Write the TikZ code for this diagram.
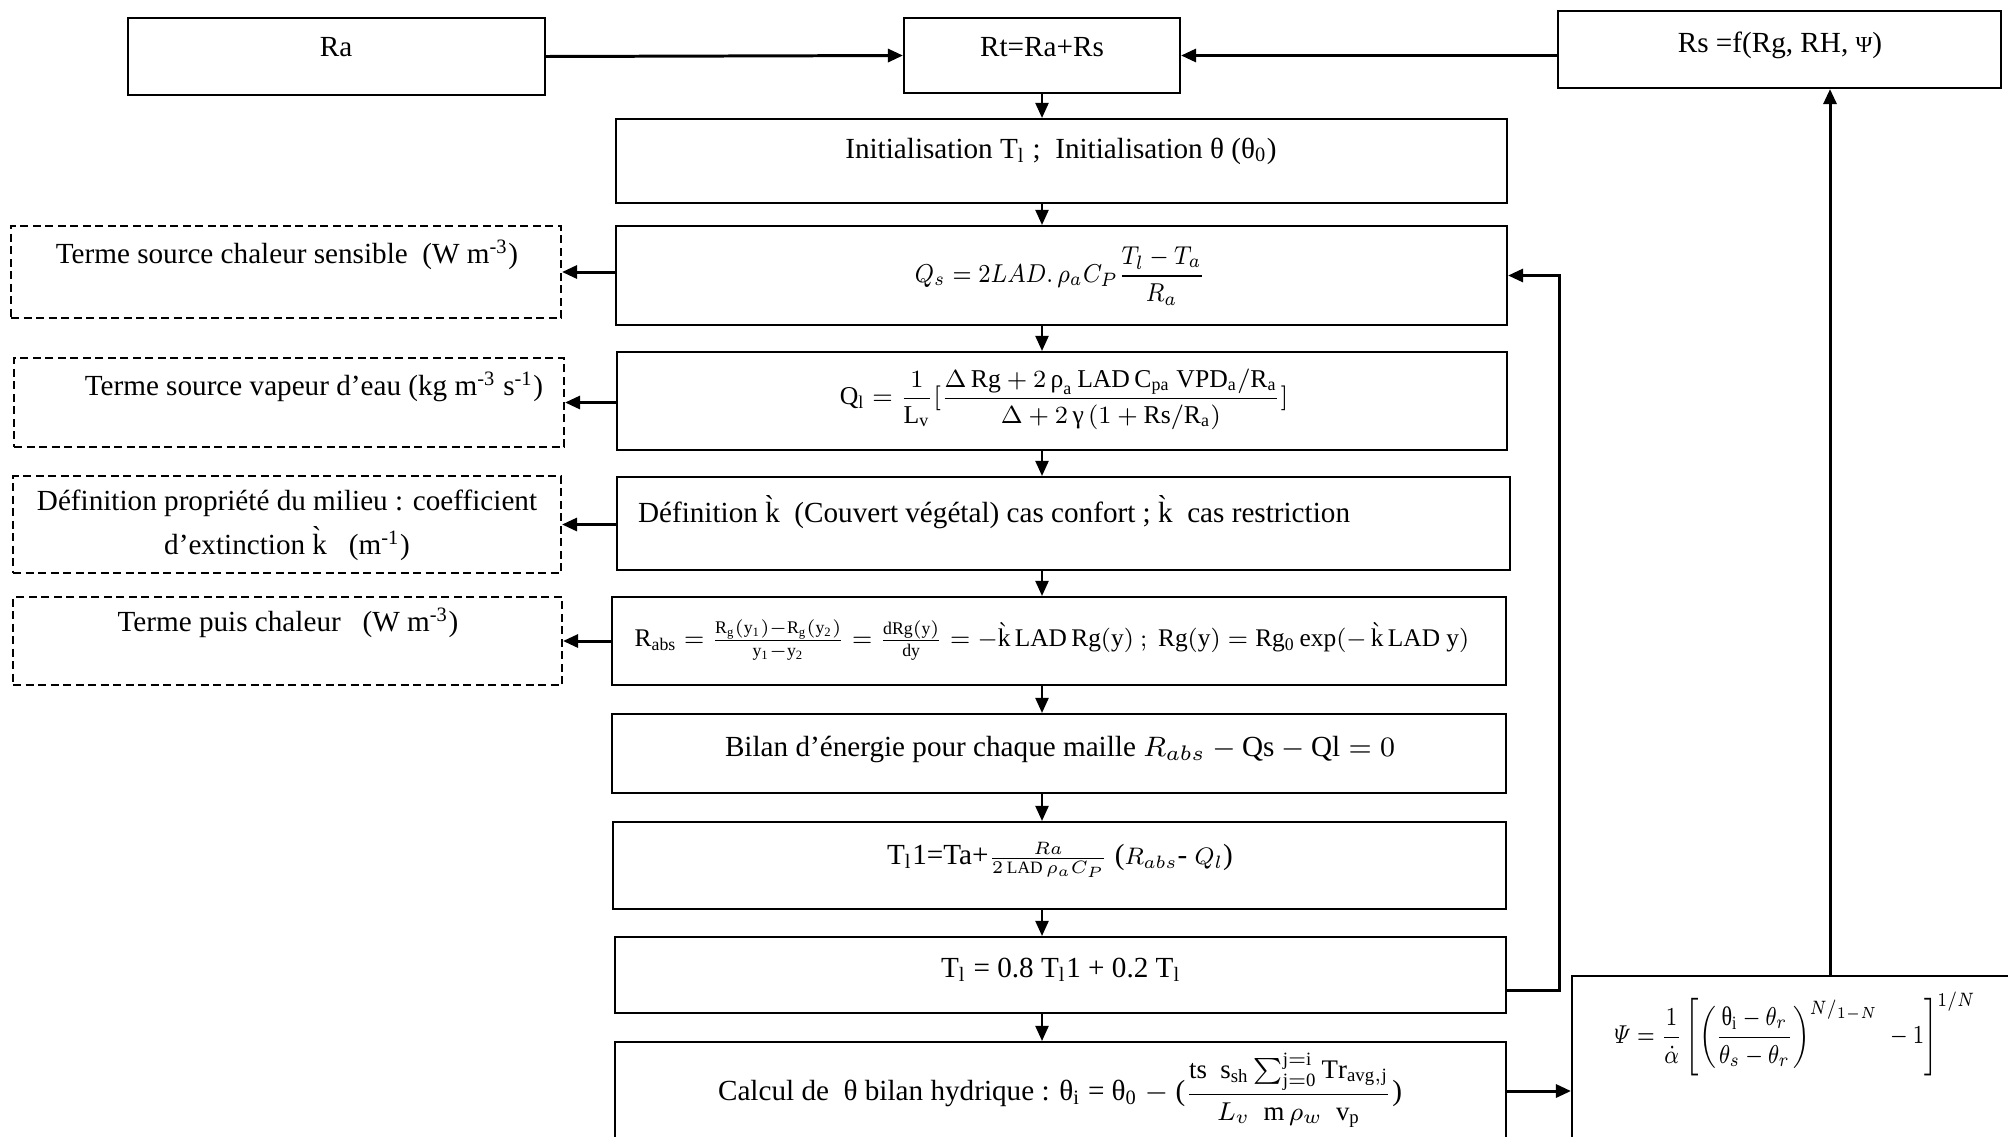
\documentclass[tikz,border=0pt]{standalone}
\usepackage{amsmath}
\usepackage{graphicx}
\usepackage{fontspec}
\setmainfont{Liberation Serif}
\usetikzlibrary{arrows.meta}

\begin{document}
\begin{tikzpicture}[x=0.1mm,y=-0.1mm,>={Triangle[length=1.5mm,width=1.3mm]},line width=0.6pt,font=\fontsize{8.3}{10}\selectfont]
\tikzstyle{box}=[draw,inner sep=0pt]
\tikzstyle{dbox}=[box,dash pattern=on 0.8mm off 0.45mm]
\tikzstyle{txt}=[inner sep=0pt,align=center]
\tikzstyle{arr}=[->,line width=0.85pt]
\useasboundingbox (0,0) rectangle (2008,1136);
% top row
\node[box,minimum width=41.7mm,minimum height=7.7mm] (ra) at (336.5,56.5) {};
\node[box,minimum width=27.6mm,minimum height=7.5mm] (rt) at (1042,55.5) {};
\node[box,minimum width=44.3mm,minimum height=7.7mm] (rs) at (1779.5,49.5) {};
\node[txt] (ra-t) at (336,47) {Ra};
\node[txt] (rt-t) at (1042,47) {Rt=Ra+Rs};
\node[txt] (rs-t) at (1780,45) {Rs =f(Rg, RH, {\fontsize{6.5}{8}\selectfont Ψ})};
% main column
\node[box,minimum width=89.1mm,minimum height=8.4mm] (init) at (1061.5,161) {};
\node[box,minimum width=89.1mm,minimum height=9.9mm] (qs) at (1061.5,275.5) {};
\node[box,minimum width=89mm,minimum height=9.8mm] (ql) at (1062,401) {};
\node[box,minimum width=89.3mm,minimum height=9.3mm] (defk) at (1063.5,523.5) {};
\node[box,minimum width=89.4mm,minimum height=8.8mm] (rabs) at (1059,641) {};
\node[box,minimum width=89.4mm,minimum height=7.9mm] (bilan) at (1059,753.5) {};
\node[box,minimum width=89.3mm,minimum height=8.7mm] (tlun) at (1059.5,865.5) {};
\node[box,minimum width=89.1mm,minimum height=7.6mm] (tl) at (1060.5,975) {};
\node[box,minimum width=89.1mm,minimum height=9.8mm] (calc) at (1060.5,1091) {};
\node[txt] (init-t) at (1061,151) {Initialisation T\textsubscript{l} ;~ Initialisation θ (θ\textsubscript{0})};
\node[txt] (qs-t) at (1060,276) {\scalebox{0.82}[0.92]{$Q_s = 2LAD.\,\rho_a C_P \dfrac{T_l - T_a}{R_a}$}};
\node[txt] (ql-t) at (1064,399) {\scalebox{0.88}{$\mathrm{Q_l} = \dfrac{1}{\mathrm{L_v}}[\dfrac{\Delta\,\mathrm{Rg} + 2\,\text{ρ}_\mathrm{a}\,\mathrm{LAD}\,\mathrm{C_{pa}}\ \mathrm{VPD_a}/\mathrm{R_a}}{\Delta + 2\,\text{γ}\,(1 + \mathrm{Rs}/\mathrm{R_a})}]$}};
\node[txt,anchor=west] (defk-t) at (637,512) {Définition \`k~ (Couvert végétal) cas confort ; \`k~ cas restriction};
\node[txt] (rabs-t) at (1052,640) {\scalebox{0.87}{$\mathrm{R_{abs}} = \frac{\mathrm{R_g(y_1)}-\mathrm{R_g(y_2)}}{\mathrm{y_1}-\mathrm{y_2}} = \frac{\mathrm{dRg(y)}}{\mathrm{dy}} = -\grave{\mathrm{k}}\,\mathrm{LAD\,Rg(y)}\ ;\ \mathrm{Rg(y)} = \mathrm{Rg_0}\exp(-\,\grave{\mathrm{k}}\,\mathrm{LAD\ y})$}};
\node[txt] (bilan-t) at (1060,749) {Bilan d’énergie pour chaque maille $R_{abs} - \mathrm{Qs} - \mathrm{Ql} = 0$};
\node[txt] (tlun-t) at (1060,860) {T\textsubscript{l}1=Ta+\scalebox{0.85}{$\frac{Ra}{2\,\mathrm{LAD}\,\rho_a C_P}$} (\scalebox{0.85}{$R_{abs}$}- \scalebox{0.85}{$Q_l$})};
\node[txt] (tl-t) at (1061,970) {T\textsubscript{l} = 0.8 T\textsubscript{l}1 + 0.2 T\textsubscript{l}};
\node[txt] (calc-t) at (1060,1090) {Calcul de~ θ bilan hydrique : θ\textsubscript{i} = θ\textsubscript{0} $-$ (\scalebox{0.92}{$\dfrac{\mathrm{ts}\ \ \mathrm{s_{sh}}\sum\nolimits_{\mathrm{j=0}}^{\mathrm{j=i}}\mathrm{Tr_{avg,j}}}{L_v\ \ \mathrm{m}\,\rho_w\ \ \mathrm{v_p}}$})};
% right
\node[box,minimum width=51.6mm,minimum height=23mm] (psi) at (1830,1091) {};
\node[txt] (psi-t) at (1795,1034) {\scalebox{0.76}[0.92]{$\varPsi = \dfrac{1}{\dot{\alpha}}\left[\left(\dfrac{\text{θ}_\mathrm{i} - \theta_r}{\theta_s - \theta_r}\right)^{N/_{1-N}}\; - 1\right]^{1/N}$}};
% left dashed
\node[dbox,minimum width=55mm,minimum height=9.2mm] (chal) at (286,272) {};
\node[dbox,minimum width=55mm,minimum height=8.9mm] (vap) at (289,402.5) {};
\node[dbox,minimum width=54.8mm,minimum height=9.7mm] (prop) at (287,524.5) {};
\node[dbox,minimum width=54.9mm,minimum height=8.8mm] (puis) at (287.5,641) {};
\node[txt] (chal-t) at (287,255) {Terme source chaleur sensible~ (W m\textsuperscript{-3})};
\node[txt] (vap-t) at (314,387) {Terme source vapeur d’eau (kg m\textsuperscript{-3} s\textsuperscript{-1})};
\node[txt,font=\fontsize{8.3}{12.5}\selectfont] (prop-t) at (287,525) {Définition propriété du milieu : coefficient\\ d’extinction \`k~~ (m\textsuperscript{-1})};
\node[txt] (puis-t) at (288,623) {Terme puis chaleur~~ (W m\textsuperscript{-3})};
% arrows
\draw[arr] (ra.east) -- (rt.west);
\draw[arr] (rt.east -| rs.west) -- (rt.east);
\foreach \a/\b in {rt/init,init/qs,qs/ql,ql/defk,defk/rabs,rabs/bilan,bilan/tlun,tlun/tl,tl/calc}
  \draw[->] (\a.south -| rt) -- (\b.north -| rt);
\foreach \a/\b in {qs/chal,ql/vap,defk/prop,rabs/puis}
  \draw[arr] (\b.east -| \a.west) -- (\b.east);
\coordinate (fb) at (1559,990);
\draw[arr] (tl.east |- fb) -- (fb) |- (qs.east);
\draw[arr] (calc.east) -- (calc.east -| psi.west);
\draw[arr] (psi.north) -- (psi.north |- rs.south);
\end{tikzpicture}
\end{document}
